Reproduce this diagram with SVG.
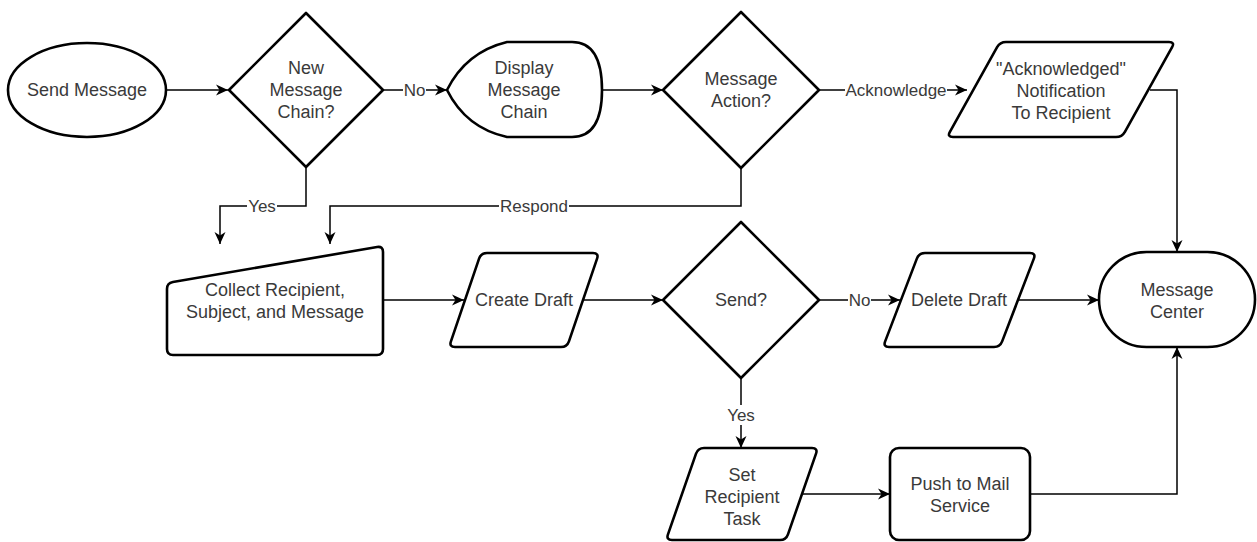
<svg xmlns="http://www.w3.org/2000/svg" width="1257" height="542" viewBox="0 0 1257 542">
  <style>
    .node { fill: #ffffff; stroke: #000000; stroke-width: 2.6; stroke-linejoin: round; }
    .txt { font-family: "Liberation Sans", Arial, sans-serif; font-size: 18px; fill: #3a3a3a; text-anchor: middle; }
    .lbl { font-family: "Liberation Sans", Arial, sans-serif; font-size: 17px; fill: #3a3a3a; text-anchor: middle; }
    .edge { fill: none; stroke: #000000; stroke-width: 1.5; marker-end: url(#arrow); }
    .lblbg { fill: #ffffff; }
  </style>
  <defs>
    <marker id="arrow" markerUnits="userSpaceOnUse" markerWidth="13" markerHeight="12" viewBox="0 0 13 12" refX="12" refY="6" orient="auto">
      <path d="M0,0.5 L12,6 L0,11.5 L3.5,6 Z" fill="#000000"/>
    </marker>
  </defs>
  <rect x="0" y="0" width="1257" height="542" fill="#ffffff"/>

  <!-- connectors -->
  <g id="connectors">
    <path class="edge" d="M166,90 H228"/>
    <path class="edge" d="M383,90 H447"/>
    <path class="edge" d="M602,90 H663"/>
    <path class="edge" d="M819,90 H967"/>
    <path class="edge" d="M1150,90 H1177 V252"/>
    <path class="edge" d="M306,167 V206 H220 V244"/>
    <path class="edge" d="M741,168 V206 H330 V244"/>
    <path class="edge" d="M383,300 H464"/>
    <path class="edge" d="M583,300 H663"/>
    <path class="edge" d="M819,300 H900"/>
    <path class="edge" d="M1018,300 H1099"/>
    <path class="edge" d="M741,378 V448"/>
    <path class="edge" d="M802,494 H890"/>
    <path class="edge" d="M1030,494 H1177 V347"/>

    <!-- edge labels -->
    <rect class="lblbg" x="403" y="80" width="23" height="20"/>
    <text class="lbl" x="414.5" y="96">No</text>
    <rect class="lblbg" x="845" y="80" width="102" height="20"/>
    <text class="lbl" x="896" y="96">Acknowledge</text>
    <rect class="lblbg" x="247" y="196" width="30" height="20"/>
    <text class="lbl" x="262" y="212">Yes</text>
    <rect class="lblbg" x="499" y="196" width="70" height="20"/>
    <text class="lbl" x="534" y="212">Respond</text>
    <rect class="lblbg" x="848" y="290" width="23" height="20"/>
    <text class="lbl" x="859.5" y="306">No</text>
    <rect class="lblbg" x="726" y="405" width="30" height="20"/>
    <text class="lbl" x="741" y="421">Yes</text>
  </g>

  <g id="send-message">
    <ellipse class="node" cx="87" cy="90" rx="79" ry="47"/>
    <text class="txt" x="87" y="96">Send Message</text>
  </g>

  <g id="new-chain">
    <polygon class="node" points="306,13 383,90 306,167 229,90"/>
    <text class="txt" x="306" y="74">New</text>
    <text class="txt" x="306" y="96">Message</text>
    <text class="txt" x="306" y="118">Chain?</text>
  </g>

  <g id="display-chain">
    <path class="node" d="M447,90 Q466,52 507,42 H572 Q602,42 602,90 Q602,137 572,137 H507 Q466,128 447,90 Z"/>
    <text class="txt" x="524" y="74">Display</text>
    <text class="txt" x="524" y="96">Message</text>
    <text class="txt" x="524" y="118">Chain</text>
  </g>

  <g id="message-action">
    <polygon class="node" points="741,12 819,90 741,168 663,90"/>
    <text class="txt" x="741" y="85">Message</text>
    <text class="txt" x="741" y="107">Action?</text>
  </g>

  <g id="ack-notification">
    <path class="node" d="M1006,42 H1169 Q1175,42 1172.1,47.2 L1124.9,131.8 Q1122,137 1116,137 H953 Q947,137 949.9,131.8 L997.1,47.2 Q1000,42 1006,42 Z"/>
    <text class="txt" x="1061" y="75">"Acknowledged"</text>
    <text class="txt" x="1061" y="97">Notification</text>
    <text class="txt" x="1061" y="119">To Recipient</text>
  </g>

  <g id="collect">
    <path class="node" d="M172.9,282 L377.1,247 Q383,246 383,252 V349 Q383,355 377,355 H173 Q167,355 167,349 V289 Q167,283 172.9,282 Z"/>
    <text class="txt" x="275" y="296">Collect Recipient,</text>
    <text class="txt" x="275" y="318">Subject, and Message</text>
  </g>

  <g id="create-draft">
    <path class="node" d="M487,253 H593 Q599,253 597.07,258.68 L568.93,341.32 Q567,347 561,347 H455 Q449,347 450.93,341.32 L479.07,258.68 Q481,253 487,253 Z"/>
    <text class="txt" x="524" y="306">Create Draft</text>
  </g>

  <g id="send-decision">
    <polygon class="node" points="741,222 819,300 741,378 663,300"/>
    <text class="txt" x="741" y="306">Send?</text>
  </g>

  <g id="delete-draft">
    <path class="node" d="M925,253 H1030 Q1036,253 1033.85,258.6 L1002.15,341.4 Q1000,347 994,347 H889 Q883,347 885.15,341.4 L916.85,258.6 Q919,253 925,253 Z"/>
    <text class="txt" x="959" y="306">Delete Draft</text>
  </g>

  <g id="message-center">
    <rect class="node" x="1099" y="252" width="156" height="95" rx="47.5" ry="47.5"/>
    <text class="txt" x="1177" y="296">Message</text>
    <text class="txt" x="1177" y="318">Center</text>
  </g>

  <g id="set-recipient-task">
    <path class="node" d="M704,448 H812 Q818,448 816.03,453.67 L787.97,534.33 Q786,540 780,540 H672 Q666,540 667.97,534.33 L696.03,453.67 Q698,448 704,448 Z"/>
    <text class="txt" x="742" y="481">Set</text>
    <text class="txt" x="742" y="503">Recipient</text>
    <text class="txt" x="742" y="525">Task</text>
  </g>

  <g id="push-mail">
    <rect class="node" x="890" y="448" width="140" height="92" rx="9" ry="9"/>
    <text class="txt" x="960" y="490">Push to Mail</text>
    <text class="txt" x="960" y="512">Service</text>
  </g>
</svg>
